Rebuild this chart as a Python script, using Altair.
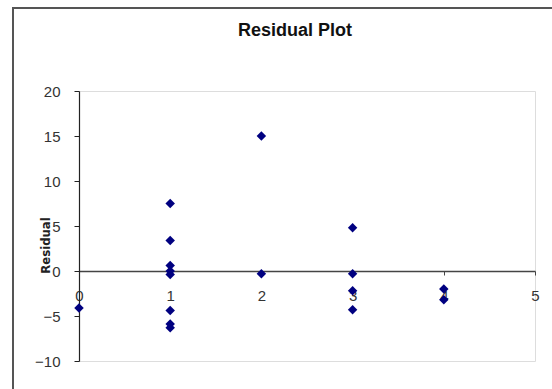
import altair as alt
import pandas as pd

x_vals = [0, 1, 1, 1, 1, 1, 1, 1, 1, 2, 2, 3, 3, 3, 3, 4, 4]
residuals = [-4.1, 7.5, 3.4, 0.6, 0.0, -0.4, -4.4, -5.9, -6.3, 15.0, -0.3, 4.8, -0.3, -2.2, -4.3, -2.0, -3.2]
x_ticks = [0, 1, 2, 3, 4, 5]
y_ticks = [-10, -5, 0, 5, 10, 15, 20]
chart_title = ["Residual Plot"]

df = pd.DataFrame({"x": x_vals, "r": residuals})
title_df = pd.DataFrame({"t": chart_title})

FONT = "Liberation Sans"
W, H = 456, 270

points = alt.Chart(df).mark_point(
    shape="diamond", filled=True, color="#000080", size=90, opacity=1
).encode(
    x=alt.X("x:Q",
            scale=alt.Scale(domain=[0, 5], nice=False, zero=False),
            axis=alt.Axis(values=x_ticks, title=None, grid=False, offset=-H * 10 / 30,
                          domainColor="#444444", domainWidth=1.5, tickColor="#444444",
                          tickSize=4, labelPadding=13, labelFontSize=15, labelFont=FONT,
                          labelColor="#333333", labelFlush=False)),
    y=alt.Y("r:Q",
            scale=alt.Scale(domain=[-10, 20], nice=False, zero=False),
            axis=alt.Axis(values=y_ticks, title="Residual", grid=False,
                          domainColor="#222222", domainWidth=1.2, tickColor="#222222",
                          tickSize=5, labelPadding=14, labelFontSize=15, labelFont=FONT,
                          labelColor="#333333",
                          titleFont="DejaVu Sans Condensed, Liberation Sans Narrow, Liberation Sans",
                          titleFontSize=13,
                          titleFontWeight="bold", titleColor="#222222",
                          titleAngle=270, titleX=-34, titleY=154,
                          titleAlign="center", titleBaseline="middle")),
)

frame = alt.Chart(df).mark_rect(
    fill=None, stroke="#555555", strokeWidth=1.5
).encode(
    x=alt.value(-66), x2=alt.value(490), y=alt.value(-83), y2=alt.value(320)
)

title = alt.Chart(title_df).mark_text(
    font=FONT, fontSize=18, fontWeight="bold", color="#111111",
    align="center", baseline="middle"
).encode(
    text="t:N", x=alt.value(W / 2 - 12), y=alt.value(-60)
)

chart = alt.layer(frame, points, title).properties(
    width=W, height=H,
    autosize=alt.AutoSizeParams(type="none"),
    padding={"left": 79, "top": 91, "right": 17, "bottom": 28},
).configure_view(stroke="#999999", strokeWidth=1).configure(background="white")

chart.save("out.html", embed_options={"renderer": "svg", "actions": False})
